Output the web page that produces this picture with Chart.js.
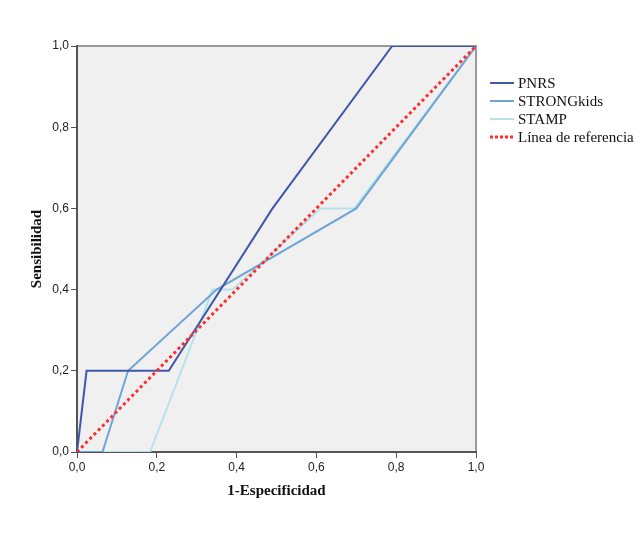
<!DOCTYPE html>
<html>
<head>
<meta charset="utf-8">
<script src="https://cdn.jsdelivr.net/npm/chart.js@4/dist/chart.umd.min.js"></script>
<style>
  html, body { margin: 0; padding: 0; background: #fff; }
  #wrap { width: 644px; height: 533px; }
</style>
</head>
<body>
<div id="wrap"><canvas id="roc" width="644" height="533"></canvas></div>
<script>
// --- ROC curve data ---
const seriesNames = ["PNRS", "STRONGkids", "STAMP", "Línea de referencia"];
const seriesColors = ["#3f58ab", "#6fa4d7", "#b4e3e9", "#ff2d2d"];

const pnrsX = [0, 0.024, 0.23, 0.49, 0.79, 1];
const pnrsY = [0, 0.2, 0.2, 0.6, 1, 1];

const strongX = [0, 0.064, 0.128, 0.35, 0.70, 1];
const strongY = [0, 0, 0.2, 0.4, 0.6, 1];

const stampX = [0, 0.183, 0.34, 0.39, 0.61, 0.695, 1];
const stampY = [0, 0, 0.4, 0.4, 0.6, 0.6, 1];

const refX = [0, 1];
const refY = [0, 1];

const tickValues = [0, 0.2, 0.4, 0.6, 0.8, 1.0];
const xTitle = "1-Especificidad";
const yTitle = "Sensibilidad";

function toPoints(xs, ys) {
  return xs.map((x, i) => ({x: x, y: ys[i]}));
}
function fmt(v) {
  return v.toFixed(1).replace('.', ',');
}

// --- plot background + top/right frame ---
const plotFrame = {
  id: 'plotFrame',
  beforeDraw(chart) {
    const {ctx, chartArea: a} = chart;
    ctx.save();
    ctx.fillStyle = '#f0f0f0';
    ctx.fillRect(a.left, a.top, a.right - a.left, a.bottom - a.top);
    ctx.strokeStyle = '#9a9a9a';
    ctx.lineWidth = 2;
    ctx.beginPath();
    ctx.moveTo(a.left, a.top);
    ctx.lineTo(a.right, a.top);
    ctx.lineTo(a.right, a.bottom);
    ctx.stroke();
    ctx.restore();
  }
};

// --- legend at top right, like the original ---
const sideLegend = {
  id: 'sideLegend',
  afterDraw(chart) {
    const ctx = chart.ctx;
    ctx.save();
    ctx.font = '15px "Liberation Serif", serif';
    ctx.textBaseline = 'middle';
    ctx.fillStyle = '#111';
    seriesNames.forEach((name, i) => {
      const y = 83 + i * 18;
      ctx.strokeStyle = seriesColors[i];
      if (i === 3) {
        ctx.lineWidth = 3;
        ctx.setLineDash([3, 2]);
      } else {
        ctx.lineWidth = 2;
        ctx.setLineDash([]);
      }
      ctx.beginPath();
      ctx.moveTo(490, y);
      ctx.lineTo(514, y);
      ctx.stroke();
      ctx.fillText(name, 518, y + 1);
    });
    ctx.restore();
  }
};

const lineDs = (label, pts, color, order) => ({
  label: label,
  data: pts,
  showLine: true,
  borderColor: color,
  backgroundColor: color,
  borderWidth: 2,
  pointRadius: 0,
  tension: 0,
  order: order
});

const datasets = [
  lineDs(seriesNames[0], toPoints(pnrsX, pnrsY), seriesColors[0], 1),
  lineDs(seriesNames[1], toPoints(strongX, strongY), seriesColors[1], 2),
  lineDs(seriesNames[2], toPoints(stampX, stampY), seriesColors[2], 3),
  Object.assign(lineDs(seriesNames[3], toPoints(refX, refY), seriesColors[3], 0),
    {borderWidth: 3, borderDash: [3, 3]})
];

new Chart(document.getElementById('roc').getContext('2d'), {
  type: 'scatter',
  data: {datasets: datasets},
  options: {
    responsive: false,
    animation: false,
    layout: {padding: {left: 0, top: 46, right: 168, bottom: 0}},
    plugins: {legend: {display: false}, tooltip: {enabled: false}},
    scales: {
      x: {
        type: 'linear', min: 0, max: 1,
        afterBuildTicks: s => { s.ticks = tickValues.map(v => ({value: v})); },
        afterFit: s => { s.height = 81; },
        ticks: {
          callback: v => fmt(v),
          color: '#222', padding: 2, maxRotation: 0,
          font: {family: '"Liberation Sans", Arial, sans-serif', size: 12}
        },
        grid: {drawOnChartArea: false, drawTicks: true, tickLength: 6, color: '#555', lineWidth: 1},
        border: {color: '#555', width: 2},
        title: {
          display: true, text: xTitle, color: '#111',
          font: {family: '"Liberation Serif", serif', size: 15, weight: 'bold'},
          padding: {top: 0, bottom: 33}
        }
      },
      y: {
        type: 'linear', min: 0, max: 1,
        afterBuildTicks: s => { s.ticks = tickValues.map(v => ({value: v})); },
        afterFit: s => { s.width = 77; },
        ticks: {
          callback: v => fmt(v),
          color: '#222', padding: 2,
          font: {family: '"Liberation Sans", Arial, sans-serif', size: 12}
        },
        grid: {drawOnChartArea: false, drawTicks: true, tickLength: 6, color: '#555', lineWidth: 1},
        border: {color: '#555', width: 2},
        title: {
          display: true, text: yTitle, color: '#111',
          font: {family: '"Liberation Serif", serif', size: 15, weight: 'bold'},
          padding: {top: 28, bottom: 0}
        }
      }
    }
  },
  plugins: [plotFrame, sideLegend]
});
</script>
</body>
</html>
